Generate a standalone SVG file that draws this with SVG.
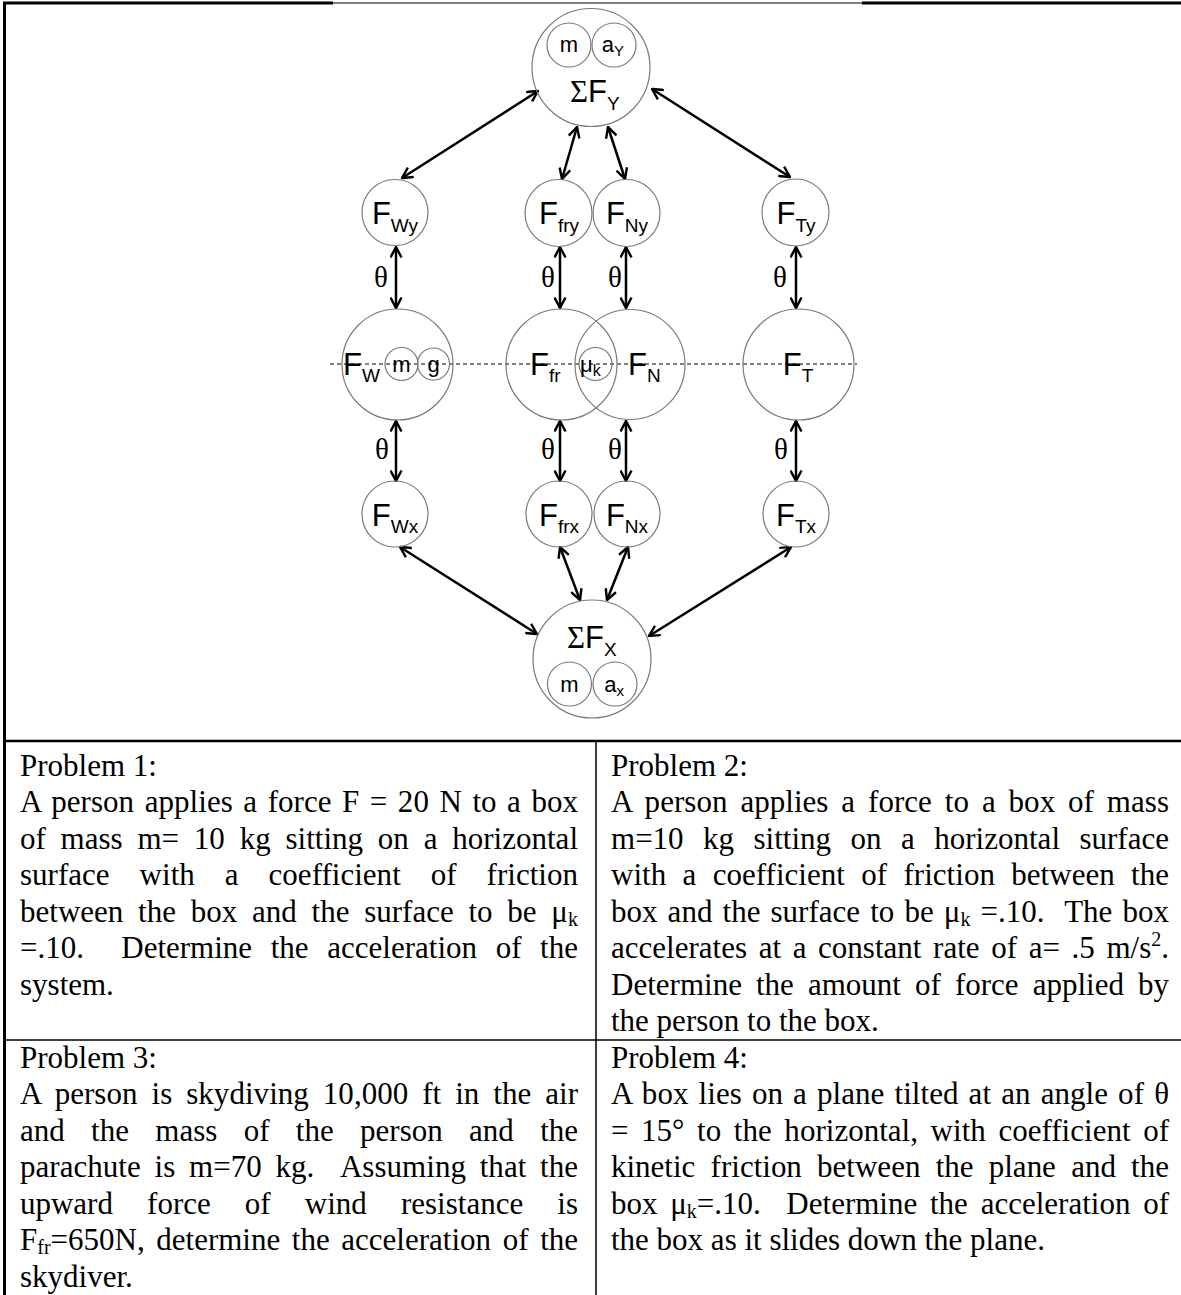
<svg xmlns="http://www.w3.org/2000/svg" width="1181" height="1295" viewBox="0 0 1181 1295">
<defs>
<marker id="ah" viewBox="0 0 13 13" refX="12" refY="6.5" markerWidth="13" markerHeight="13" markerUnits="userSpaceOnUse" orient="auto-start-reverse">
<path d="M1.5,1 L12,6.5 L1.5,12" fill="none" stroke="#000" stroke-width="2.4"/>
</marker>
<style>
.c{fill:none;stroke:#7a7a7a;stroke-width:1.2}
.f{font-family:"Liberation Sans",Arial,sans-serif;font-size:31px;fill:#000}
.s{font-size:19px}
.sm{font-family:"Liberation Sans",Arial,sans-serif;font-size:22px;fill:#000}
.th{font-family:"Liberation Serif","Times New Roman",serif;font-size:29px;fill:#000}
.sig{font-family:"Liberation Serif","Times New Roman",serif}
.a{stroke:#000;stroke-width:2.5;fill:none;marker-start:url(#ah);marker-end:url(#ah)}
.b{font-family:"Liberation Serif","Times New Roman",serif;font-size:31px;fill:#000}
.sub{font-size:20px}
.tk{stroke:#000;fill:none}
</style>
</defs>
<g id="table">
<line class="tk" x1="3" y1="3" x2="333" y2="3" stroke-width="3"/>
<line class="tk" x1="333" y1="3" x2="862" y2="3" stroke-width="1"/>
<line class="tk" x1="862" y1="3" x2="1181" y2="3" stroke-width="3"/>
<line class="tk" x1="4.5" y1="2" x2="4.5" y2="1295" stroke-width="3"/>
<line class="tk" x1="3" y1="741" x2="1181" y2="741" stroke-width="2.5"/>
<line class="tk" x1="596" y1="741" x2="596" y2="1295" stroke-width="1.5"/>
<line class="tk" x1="3" y1="1040" x2="1181" y2="1040" stroke-width="1.5"/>
</g>
<line id="axis" x1="330" y1="364" x2="857" y2="364" stroke="#000" stroke-width="1" stroke-dasharray="4 3"/>
<g id="connectors">
<line class="a" x1="402" y1="178" x2="538" y2="91"/>
<line class="a" x1="652" y1="89" x2="790" y2="177"/>
<line class="a" x1="577" y1="127" x2="562" y2="179"/>
<line class="a" x1="608" y1="127" x2="625" y2="179"/>
<line class="a" x1="396" y1="247" x2="396" y2="308"/>
<line class="a" x1="560" y1="247" x2="560" y2="308"/>
<line class="a" x1="626" y1="247" x2="626" y2="308"/>
<line class="a" x1="796" y1="247" x2="796" y2="308"/>
<line class="a" x1="396" y1="421" x2="396" y2="481"/>
<line class="a" x1="560" y1="421" x2="560" y2="481"/>
<line class="a" x1="626" y1="421" x2="626" y2="481"/>
<line class="a" x1="796" y1="421" x2="796" y2="481"/>
<line class="a" x1="400" y1="547" x2="537" y2="634"/>
<line class="a" x1="560" y1="547" x2="580" y2="600"/>
<line class="a" x1="628" y1="547" x2="607" y2="600"/>
<line class="a" x1="649" y1="636" x2="791" y2="547"/>
<text class="th" x="381" y="287" text-anchor="middle">θ</text>
<text class="th" x="548" y="287" text-anchor="middle">θ</text>
<text class="th" x="615" y="287" text-anchor="middle">θ</text>
<text class="th" x="780" y="287" text-anchor="middle">θ</text>
<text class="th" x="382" y="459" text-anchor="middle">θ</text>
<text class="th" x="548" y="459" text-anchor="middle">θ</text>
<text class="th" x="615" y="459" text-anchor="middle">θ</text>
<text class="th" x="781" y="459" text-anchor="middle">θ</text>
</g>
<g id="sumFy">
<circle class="c" cx="591" cy="67.5" r="59"/>
<circle class="c" cx="569" cy="45" r="22"/>
<circle class="c" cx="614" cy="45" r="22"/>
<text class="sm" x="569" y="52" text-anchor="middle">m</text>
<text class="sm" x="613" y="52" text-anchor="middle">a<tspan font-size="15" dy="4">Y</tspan></text>
<text class="f" x="570" y="102"><tspan class="sig">Σ</tspan>F<tspan class="s" dy="8">Y</tspan></text>
</g>
<g id="Fwy">
<circle class="c" cx="395" cy="212.5" r="33"/>
<text class="f" x="395" y="224" text-anchor="middle">F<tspan class="s" dy="8">Wy</tspan></text>
</g>
<g id="Ffry">
<circle class="c" cx="558.5" cy="213" r="33.5"/>
<text class="f" x="559" y="224" text-anchor="middle">F<tspan class="s" dy="8">fry</tspan></text>
</g>
<g id="FNy">
<circle class="c" cx="626.5" cy="213" r="33.5"/>
<text class="f" x="627" y="224" text-anchor="middle">F<tspan class="s" dy="8">Ny</tspan></text>
</g>
<g id="FTy">
<circle class="c" cx="795.5" cy="212.5" r="33.5"/>
<text class="f" x="796" y="224" text-anchor="middle">F<tspan class="s" dy="8">Ty</tspan></text>
</g>
<g id="FW">
<circle class="c" cx="397.5" cy="364.5" r="55.5"/>
<circle class="c" cx="401.5" cy="364" r="16.5"/>
<circle class="c" cx="433.5" cy="364" r="16"/>
<text class="f" x="343" y="375">F<tspan class="s" dy="7">W</tspan></text>
<text class="sm" x="401.5" y="372" text-anchor="middle">m</text>
<text class="sm" x="433.5" y="372" text-anchor="middle">g</text>
</g>
<g id="Ffr">
<circle class="c" cx="561.5" cy="364.5" r="55.5"/>
<text class="f" x="530" y="375">F<tspan class="s" dy="7">fr</tspan></text>
</g>
<g id="FN">
<circle class="c" cx="630" cy="364.5" r="55"/>
<text class="f" x="628" y="375">F<tspan class="s" dy="7">N</tspan></text>
</g>
<g id="muk">
<circle class="c" cx="595.5" cy="364" r="16.5"/>
<text class="sm" x="580" y="372">μ<tspan font-size="16" dy="4">k</tspan></text>
</g>
<g id="FT">
<circle class="c" cx="798.5" cy="364.5" r="55.5"/>
<text class="f" x="798" y="375" text-anchor="middle">F<tspan class="s" dy="7">T</tspan></text>
</g>
<g id="Fwx">
<circle class="c" cx="395" cy="514" r="33"/>
<text class="f" x="395" y="526" text-anchor="middle">F<tspan class="s" dy="7">Wx</tspan></text>
</g>
<g id="Ffrx">
<circle class="c" cx="559" cy="514" r="33"/>
<text class="f" x="559" y="526" text-anchor="middle">F<tspan class="s" dy="7">frx</tspan></text>
</g>
<g id="FNx">
<circle class="c" cx="627" cy="514" r="33"/>
<text class="f" x="627" y="526" text-anchor="middle">F<tspan class="s" dy="7">Nx</tspan></text>
</g>
<g id="FTx">
<circle class="c" cx="796" cy="514" r="33"/>
<text class="f" x="796" y="526" text-anchor="middle">F<tspan class="s" dy="7">Tx</tspan></text>
</g>
<g id="sumFx">
<circle class="c" cx="592" cy="659" r="59"/>
<circle class="c" cx="569.5" cy="684" r="22"/>
<circle class="c" cx="615" cy="684" r="22"/>
<text class="f" x="567" y="648"><tspan class="sig">Σ</tspan>F<tspan class="s" dy="8">X</tspan></text>
<text class="sm" x="569.5" y="692" text-anchor="middle">m</text>
<text class="sm" x="614" y="692" text-anchor="middle">a<tspan font-size="15" dy="4">x</tspan></text>
</g>
<g id="problem1" class="b">
<text x="20" y="775.5">Problem 1:</text>
<text x="20" y="812" word-spacing="2.7" textLength="558" lengthAdjust="spacing">A person applies a force F = 20 N to a box</text>
<text x="20" y="848.5" word-spacing="7" textLength="558" lengthAdjust="spacing">of mass m= 10 kg sitting on a horizontal</text>
<text x="20" y="885" word-spacing="22.2" textLength="558" lengthAdjust="spacing">surface with a coefficient of friction</text>
<text x="20" y="921.5" word-spacing="7" textLength="558" lengthAdjust="spacing">between the box and the surface to be μ<tspan class="sub" dy="4">k</tspan></text>
<text x="20" y="958" word-spacing="10.9" textLength="558" lengthAdjust="spacing" xml:space="preserve">=.10.  Determine the acceleration of the</text>
<text x="20" y="994.5">system.</text>
</g>
<g id="problem2" class="b">
<text x="611" y="775.5">Problem 2:</text>
<text x="611" y="812" word-spacing="5.1" textLength="558" lengthAdjust="spacing">A person applies a force to a box of mass</text>
<text x="611" y="848.5" word-spacing="11.7" textLength="558" lengthAdjust="spacing">m=10 kg sitting on a horizontal surface</text>
<text x="611" y="885" word-spacing="8.6" textLength="558" lengthAdjust="spacing">with a coefficient of friction between the</text>
<text x="611" y="921.5" word-spacing="2.3" textLength="558" lengthAdjust="spacing" xml:space="preserve">box and the surface to be μ<tspan class="sub" dy="4">k</tspan><tspan dy="-4"> =.10.  The box</tspan></text>
<text x="611" y="958" word-spacing="3.9" textLength="558" lengthAdjust="spacing">accelerates at a constant rate of a= .5 m/s<tspan class="sub" dy="-12">2</tspan><tspan dy="12">.</tspan></text>
<text x="611" y="994.5" word-spacing="6.3" textLength="558" lengthAdjust="spacing">Determine the amount of force applied by</text>
<text x="611" y="1031">the person to the box.</text>
</g>
<g id="problem3" class="b">
<text x="20" y="1067.5">Problem 3:</text>
<text x="20" y="1104" word-spacing="6.1" textLength="558" lengthAdjust="spacing">A person is skydiving 10,000 ft in the air</text>
<text x="20" y="1140.5" word-spacing="18.6" textLength="558" lengthAdjust="spacing">and the mass of the person and the</text>
<text x="20" y="1177" word-spacing="5.9" textLength="558" lengthAdjust="spacing" xml:space="preserve">parachute is m=70 kg.  Assuming that the</text>
<text x="20" y="1213.5" word-spacing="26.4" textLength="558" lengthAdjust="spacing">upward force of wind resistance is</text>
<text x="20" y="1250" word-spacing="3.9" textLength="558" lengthAdjust="spacing">F<tspan class="sub" dy="4">fr</tspan><tspan dy="-4">=650N, determine the acceleration of the</tspan></text>
<text x="20" y="1286.5">skydiver.</text>
</g>
<g id="problem4" class="b">
<text x="611" y="1067.5">Problem 4:</text>
<text x="611" y="1104" word-spacing="2.3" textLength="558" lengthAdjust="spacing">A box lies on a plane tilted at an angle of θ</text>
<text x="611" y="1140.5" word-spacing="4.8" textLength="558" lengthAdjust="spacing">= 15° to the horizontal, with coefficient of</text>
<text x="611" y="1177" word-spacing="7.5" textLength="558" lengthAdjust="spacing">kinetic friction between the plane and the</text>
<text x="611" y="1213.5" word-spacing="5" textLength="558" lengthAdjust="spacing" xml:space="preserve">box μ<tspan class="sub" dy="4">k</tspan><tspan dy="-4">=.10.  Determine the acceleration of</tspan></text>
<text x="611" y="1250">the box as it slides down the plane.</text>
</g>
</svg>
